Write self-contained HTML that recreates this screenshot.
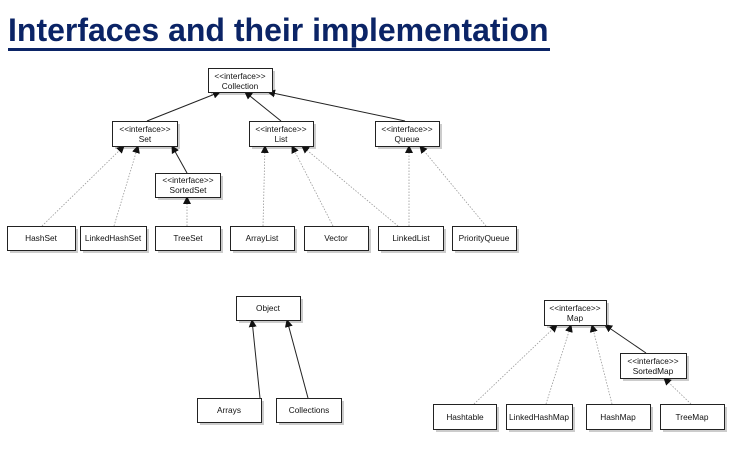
<!DOCTYPE html>
<html><head><style>
body{margin:0;background:#fff;width:743px;height:450px;overflow:hidden;position:relative}
h1{position:absolute;left:8px;top:12px;margin:0;font:bold 32px "Liberation Sans",sans-serif;color:#0b2466;letter-spacing:0}
.ul{position:absolute;left:8px;top:48px;width:542px;height:3px;background:#0b2466}
svg{position:absolute;left:0;top:0}
text{font-family:"Liberation Sans",sans-serif;font-size:8.3px;fill:#111;text-anchor:middle}
</style></head><body>
<h1>Interfaces and their implementation</h1><div class="ul"></div>
<svg width="743" height="450">
<defs><marker id="a" markerWidth="8" markerHeight="8" refX="7" refY="4" orient="auto" markerUnits="userSpaceOnUse"><path d="M0,0 L8,4 L0,8z" fill="#111"/></marker></defs>
<g fill="#ccc">
<rect x="211" y="71" width="64" height="24"/><rect x="115" y="124" width="65" height="25"/><rect x="252" y="124" width="64" height="25"/><rect x="378" y="124" width="64" height="25"/><rect x="158" y="176" width="65" height="24"/>
<rect x="10" y="229" width="68" height="24"/><rect x="83" y="229" width="66" height="24"/><rect x="158" y="229" width="65" height="24"/><rect x="233" y="229" width="64" height="24"/><rect x="307" y="229" width="64" height="24"/><rect x="381" y="229" width="65" height="24"/><rect x="455" y="229" width="64" height="24"/>
<rect x="239" y="299" width="64" height="24"/><rect x="200" y="401" width="64" height="24"/><rect x="279" y="401" width="65" height="24"/>
<rect x="547" y="303" width="62" height="25"/><rect x="623" y="356" width="66" height="25"/>
<rect x="436" y="407" width="63" height="25"/><rect x="509" y="407" width="66" height="25"/><rect x="589" y="407" width="64" height="25"/><rect x="663" y="407" width="64" height="25"/>
</g>
<g stroke="#222" stroke-width="1" marker-end="url(#a)">
<line x1="147" y1="121" x2="220" y2="92"/><line x1="281" y1="121" x2="245" y2="92"/><line x1="405" y1="121" x2="268" y2="92"/>
<line x1="187" y1="173" x2="172" y2="146"/>
<line x1="260" y1="398" x2="252" y2="320"/><line x1="308" y1="398" x2="287" y2="320"/>
<line x1="646" y1="353" x2="605" y2="325"/>
</g>
<g stroke="#999" stroke-width="0.8" stroke-dasharray="1.5,1.5" marker-end="url(#a)">
<line x1="42" y1="226" x2="124" y2="146"/><line x1="114" y1="226" x2="138" y2="146"/><line x1="187" y1="226" x2="187" y2="197"/>
<line x1="263" y1="226" x2="265" y2="146"/><line x1="333" y1="226" x2="292" y2="146"/><line x1="398" y1="226" x2="302" y2="146"/>
<line x1="409" y1="226" x2="409" y2="146"/><line x1="486" y1="226" x2="420" y2="146"/>
<line x1="474" y1="404" x2="557" y2="325"/><line x1="546" y1="404" x2="571" y2="325"/><line x1="612" y1="404" x2="592" y2="325"/><line x1="691" y1="404" x2="664" y2="378"/>
</g>
<g fill="#fff" stroke="#222" stroke-width="1">
<rect x="208.5" y="68.5" width="64" height="24"/><rect x="112.5" y="121.5" width="65" height="25"/><rect x="249.5" y="121.5" width="64" height="25"/><rect x="375.5" y="121.5" width="64" height="25"/><rect x="155.5" y="173.5" width="65" height="24"/>
<rect x="7.5" y="226.5" width="68" height="24"/><rect x="80.5" y="226.5" width="66" height="24"/><rect x="155.5" y="226.5" width="65" height="24"/><rect x="230.5" y="226.5" width="64" height="24"/><rect x="304.5" y="226.5" width="64" height="24"/><rect x="378.5" y="226.5" width="65" height="24"/><rect x="452.5" y="226.5" width="64" height="24"/>
<rect x="236.5" y="296.5" width="64" height="24"/><rect x="197.5" y="398.5" width="64" height="24"/><rect x="276.5" y="398.5" width="65" height="24"/>
<rect x="544.5" y="300.5" width="62" height="25"/><rect x="620.5" y="353.5" width="66" height="25"/>
<rect x="433.5" y="404.5" width="63" height="25"/><rect x="506.5" y="404.5" width="66" height="25"/><rect x="586.5" y="404.5" width="64" height="25"/><rect x="660.5" y="404.5" width="64" height="25"/>
</g>
<text x="240" y="79">&lt;&lt;interface&gt;&gt;</text><text x="240" y="89">Collection</text>
<text x="145" y="132">&lt;&lt;interface&gt;&gt;</text><text x="145" y="142">Set</text>
<text x="281" y="132">&lt;&lt;interface&gt;&gt;</text><text x="281" y="142">List</text>
<text x="407" y="132">&lt;&lt;interface&gt;&gt;</text><text x="407" y="142">Queue</text>
<text x="188" y="183">&lt;&lt;interface&gt;&gt;</text><text x="188" y="193">SortedSet</text>
<text x="41" y="241">HashSet</text><text x="113" y="241">LinkedHashSet</text><text x="188" y="241">TreeSet</text><text x="262" y="241">ArrayList</text><text x="336" y="241">Vector</text><text x="411" y="241">LinkedList</text><text x="484" y="241">PriorityQueue</text>
<text x="268" y="311">Object</text><text x="229" y="413">Arrays</text><text x="309" y="413">Collections</text>
<text x="575" y="311">&lt;&lt;interface&gt;&gt;</text><text x="575" y="321">Map</text>
<text x="653" y="364">&lt;&lt;interface&gt;&gt;</text><text x="653" y="374">SortedMap</text>
<text x="465" y="420">Hashtable</text><text x="539" y="420">LinkedHashMap</text><text x="618" y="420">HashMap</text><text x="692" y="420">TreeMap</text>
</svg>
</body></html>
